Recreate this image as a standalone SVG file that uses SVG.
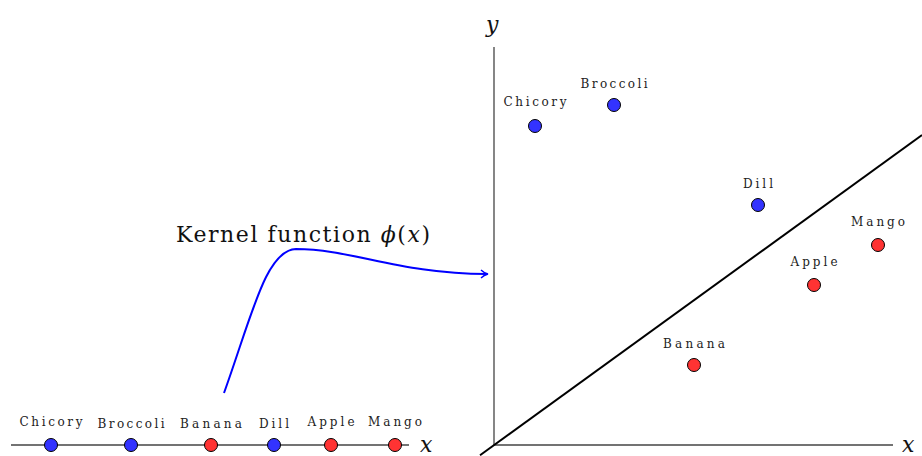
<svg xmlns="http://www.w3.org/2000/svg" width="922" height="456" viewBox="0 0 922 456">
<defs>
<style>
.lbl{font-family:"DejaVu Serif","Liberation Serif",serif;font-size:12px;fill:#222;text-anchor:middle}
.ax{font-family:"DejaVu Serif","Liberation Serif",serif;font-style:italic;font-size:22px;fill:#111}
.blue{fill:#3333ff;stroke:#000;stroke-width:1}
.red{fill:#ff3333;stroke:#000;stroke-width:1}
.axis{stroke:#444;stroke-width:1.3;fill:none}
</style>
<marker id="arr" markerWidth="10" markerHeight="10" refX="7" refY="5" orient="auto" markerUnits="userSpaceOnUse">
<path d="M1,1 Q4,4 8,5 Q4,6 1,9" fill="none" stroke="#0000ff" stroke-width="1.4"/>
</marker>
</defs>
<rect width="922" height="456" fill="#fff"/>
<g id="axes">
<line class="axis" x1="11" y1="445" x2="409" y2="445"/>
<text class="ax" x="420" y="452">x</text>
<line class="axis" x1="494" y1="47" x2="494" y2="445"/>
<line class="axis" x1="494" y1="445" x2="893" y2="445"/>
<text class="ax" x="902" y="452">x</text>
<text class="ax" x="486" y="32">y</text>
<line x1="480" y1="455.2" x2="922" y2="135" stroke="#000" stroke-width="2"/>
</g>
<g id="connectors">
<path d="M224,393 C252,315 266,250 296,249 C352,249 400,274 487,274" fill="none" stroke="#0000ff" stroke-width="2" marker-end="url(#arr)"/>
<text x="176" y="242" font-family="DejaVu Serif,Liberation Serif,serif" font-size="22" fill="#111" textLength="254">Kernel function <tspan font-style="italic">ϕ</tspan>(<tspan font-style="italic">x</tspan>)</text>
</g>
<g id="line-chicory"><circle class="blue" cx="51" cy="445" r="6.5"/><text class="lbl" x="51" y="426" textLength="63">Chicory</text></g>
<g id="line-broccoli"><circle class="blue" cx="131" cy="445" r="6.5"/><text class="lbl" x="131" y="428" textLength="67">Broccoli</text></g>
<g id="line-banana"><circle class="red" cx="211" cy="445" r="6.5"/><text class="lbl" x="211" y="428" textLength="62">Banana</text></g>
<g id="line-dill"><circle class="blue" cx="274" cy="445" r="6.5"/><text class="lbl" x="274" y="428" textLength="30">Dill</text></g>
<g id="line-apple"><circle class="red" cx="331" cy="445" r="6.5"/><text class="lbl" x="331" y="426" textLength="47">Apple</text></g>
<g id="line-mango"><circle class="red" cx="395" cy="445" r="6.5"/><text class="lbl" x="395" y="426" textLength="54">Mango</text></g>
<g id="chicory"><circle class="blue" cx="535" cy="126" r="6.5"/><text class="lbl" x="535" y="106" textLength="63">Chicory</text></g>
<g id="broccoli"><circle class="blue" cx="614" cy="105" r="6.5"/><text class="lbl" x="614" y="88" textLength="67">Broccoli</text></g>
<g id="dill"><circle class="blue" cx="758" cy="205" r="6.5"/><text class="lbl" x="758" y="188" textLength="30">Dill</text></g>
<g id="mango"><circle class="red" cx="878" cy="245" r="6.5"/><text class="lbl" x="878" y="226" textLength="54">Mango</text></g>
<g id="apple"><circle class="red" cx="814" cy="285" r="6.5"/><text class="lbl" x="814" y="266" textLength="47">Apple</text></g>
<g id="banana"><circle class="red" cx="694" cy="365" r="6.5"/><text class="lbl" x="694" y="348" textLength="62">Banana</text></g>
</svg>
